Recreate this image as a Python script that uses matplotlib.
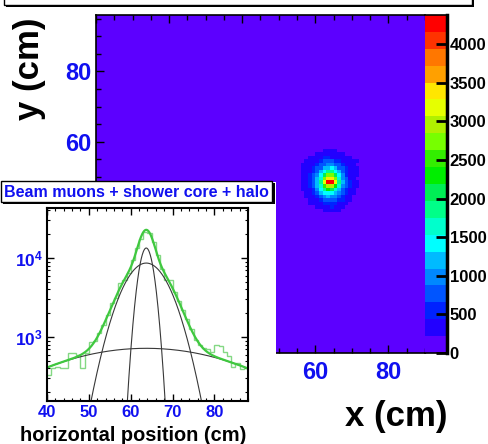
import numpy as np
import matplotlib
matplotlib.use('Agg')
from matplotlib import pyplot as plt
from matplotlib.colors import ListedColormap, BoundaryNorm
from matplotlib.patches import Rectangle
from matplotlib.ticker import MultipleLocator, LogLocator, NullFormatter, FuncFormatter

plt.rcParams['font.family'] = ['Liberation Sans', 'DejaVu Sans']
plt.rcParams['font.weight'] = 'bold'
plt.rcParams['mathtext.fontset'] = 'custom'
plt.rcParams['mathtext.rm'] = 'Liberation Sans:bold'
plt.rcParams['mathtext.bf'] = 'Liberation Sans:bold'

# palette (20 contour levels, bottom -> top)
palette_colors = ['#5c00ff', '#2200ff', '#0022ff', '#0055ff', '#0088ff',
                  '#00bbff', '#00ffff', '#00ffcc', '#00ff88', '#00ee55',
                  '#00ee00', '#33ee00', '#77ff00', '#b0f000', '#e6ff00',
                  '#ffe600', '#ffa000', '#ff7700', '#ff3300', '#ff0000']
z_max = 4380
palette_ticks = [0, 500, 1000, 1500, 2000, 2500, 3000, 3500, 4000]

# 2D map: 1 cm bins, x 0-90, y 0-96; beam spot read as palette level per bin
n_x, n_y = 90, 96
spot_x0 = 55   # first column of the spot block
spot_y0 = 40   # lowest row of the spot block
spot_level = [
    [0, 0, 0, 0, 0, 0, 0, 1, 1, 1, 1, 0, 0, 0, 0, 0, 0, 0],
    [0, 0, 0, 0, 0, 1, 1, 1, 1, 1, 1, 1, 1, 0, 0, 0, 0, 0],
    [0, 0, 0, 1, 1, 1, 1, 2, 2, 1, 1, 1, 1, 1, 1, 0, 0, 0],
    [0, 0, 1, 1, 1, 1, 2, 3, 3, 3, 2, 2, 1, 1, 1, 1, 1, 0],
    [0, 1, 1, 1, 1, 2, 3, 3, 4, 4, 3, 3, 2, 1, 1, 1, 0, 0],
    [0, 1, 1, 1, 2, 3, 3, 5, 5, 6, 5, 3, 3, 2, 1, 1, 1, 0],
    [0, 1, 1, 1, 2, 3, 5, 6, 8, 8, 6, 5, 3, 2, 1, 1, 1, 0],
    [0, 1, 1, 2, 3, 4, 6, 9, 12, 12, 9, 6, 4, 2, 1, 1, 1, 0],
    [0, 1, 1, 2, 3, 5, 7, 12, 15, 15, 12, 7, 4, 3, 1, 1, 0, 0],
    [0, 1, 1, 2, 3, 5, 8, 14, 19, 19, 14, 8, 5, 3, 2, 1, 1, 0],
    [0, 1, 1, 2, 3, 5, 7, 11, 13, 13, 10, 7, 4, 3, 2, 1, 1, 0],
    [0, 1, 1, 1, 2, 4, 6, 8, 10, 9, 7, 5, 3, 2, 1, 1, 0, 0],
    [0, 0, 1, 1, 2, 3, 5, 6, 6, 6, 5, 4, 3, 2, 1, 1, 0, 0],
    [0, 0, 1, 1, 1, 2, 3, 4, 5, 4, 4, 3, 2, 1, 1, 0, 0, 0],
    [0, 0, 0, 1, 1, 1, 2, 3, 3, 3, 3, 2, 2, 1, 1, 0, 0, 0],
    [0, 0, 0, 1, 1, 1, 1, 2, 2, 2, 2, 1, 1, 1, 0, 0, 0, 0],
    [0, 0, 0, 0, 0, 1, 1, 1, 1, 2, 1, 1, 1, 0, 0, 0, 0, 0],
    [0, 0, 0, 0, 0, 0, 0, 1, 1, 1, 1, 1, 0, 0, 0, 0, 0, 0],
]

# inset: horizontal projection, 1 cm bins from 40 to 88
hist_lo, hist_hi = 40, 88
hist_counts = [330, 400, 420, 400, 410, 630, 630, 600, 410, 620,
               860, 880, 1120, 1420, 1900, 2700, 3100, 4800, 5300, 6500,
               9500, 13300, 17500, 21500, 20500, 16000, 10800, 7200, 5300, 5200,
               3700, 2900, 2200, 1700, 1250, 920, 800, 720, 700, 640,
               790, 780, 640, 570, 420, 470, 390, 400]

# fit components: beam muons, shower core, halo
comp_amp = [13400, 8640, 720]
comp_mean = [63.7, 63.7, 63.7]
comp_sigma = [1.51, 4.65, 22.4]

W, H = 489, 444
blue = '#1010f0'


def fy(py):
    return 1 - py / H


fig = plt.figure(figsize=(W / 100, H / 100), dpi=100)

# ---- main 2D map
ax = fig.add_axes([96 / W, fy(353), 329 / W, 338 / H], zorder=0)
counts = np.zeros((n_y, n_x))
lev = np.array(spot_level)[::-1]
counts[spot_y0:spot_y0 + lev.shape[0], spot_x0:spot_x0 + lev.shape[1]] = (lev + 0.5) * z_max / 20
cmap = ListedColormap(palette_colors)
levels = np.linspace(0, z_max, 21)
norm = BoundaryNorm(levels, 20)
ax.pcolormesh(np.arange(n_x + 1), np.arange(n_y + 1), counts, cmap=cmap, norm=norm)
ax.set_xlim(0, n_x)
ax.set_ylim(0, n_y)
ax.xaxis.set_major_locator(MultipleLocator(20))
ax.xaxis.set_minor_locator(MultipleLocator(5))
ax.yaxis.set_major_locator(MultipleLocator(20))
ax.yaxis.set_minor_locator(MultipleLocator(5))
ax.tick_params(which='both', direction='in', top=True, right=False, colors='black')
ax.tick_params(which='major', length=6, width=1)
ax.tick_params(which='minor', length=3.5, width=1)
ax.tick_params(axis='x', labelsize=17, labelcolor=blue, pad=6)
ax.tick_params(axis='y', labelsize=17, labelcolor=blue, pad=3)
ax.spines['right'].set_visible(False)
for s in ['left', 'top', 'bottom']:
    ax.spines[s].set_linewidth(1.2)

# palette
cax = fig.add_axes([425 / W, fy(353), 22 / W, 338 / H], zorder=0)
mids = (levels[:-1] + levels[1:]) / 2
cax.pcolormesh([0, 1], levels, mids[:, None], cmap=cmap, norm=norm)
cax.set_xlim(0, 1)
cax.set_ylim(0, z_max)
cax.set_xticks([])
cax.yaxis.tick_right()
cax.set_yticks(palette_ticks)
cax.tick_params(axis='y', direction='in', length=8, width=2, labelsize=12, pad=2,
                right=True, left=False)
cax.spines['left'].set_visible(False)
cax.spines['right'].set_linewidth(2.5)
cax.spines['top'].set_linewidth(1.2)
cax.spines['bottom'].set_linewidth(1.2)

fig.text(30 / W, fy(120), 'y (cm)', fontsize=25, rotation=90, ha='center', va='bottom')
fig.text(396 / W, fy(416), 'x (cm)', fontsize=25, ha='center', va='center')

# ---- inset pad
pad = fig.add_axes([0, 0, 276 / W, 262 / H], zorder=1)
pad.set_facecolor('white')
pad.set_xticks([])
pad.set_yticks([])
for s in pad.spines.values():
    s.set_visible(False)

axi = fig.add_axes([47 / W, fy(401), 201 / W, 193 / H], zorder=2)
edges = np.arange(hist_lo, hist_hi + 1)
axi.stairs(hist_counts, edges, baseline=None, color='#84d884', lw=1.0)
xs = np.linspace(hist_lo, hist_hi, 600)
total = np.zeros_like(xs)
for a, m, s in zip(comp_amp, comp_mean, comp_sigma):
    g = a * np.exp(-0.5 * ((xs - m) / s) ** 2)
    total += g
    axi.plot(xs, g, color='#383838', lw=0.8)
axi.plot(xs, total, color='#3fc83f', lw=1.6)
axi.set_yscale('log')
axi.set_xlim(hist_lo, hist_hi)
axi.set_ylim(155, 43000)
axi.xaxis.set_major_locator(MultipleLocator(10))
axi.xaxis.set_minor_locator(MultipleLocator(2))
axi.yaxis.set_major_locator(LogLocator(base=10))
axi.yaxis.set_minor_locator(LogLocator(base=10, subs=np.arange(2, 10)))
axi.yaxis.set_minor_formatter(NullFormatter())
axi.yaxis.set_major_formatter(FuncFormatter(lambda v, p: r'$\mathbf{10^{%d}}$' % round(np.log10(v))))
axi.tick_params(which='both', direction='in', top=True, right=True, colors='black')
axi.tick_params(which='major', length=5, width=1)
axi.tick_params(which='minor', length=2.5, width=0.8)
axi.tick_params(axis='x', labelsize=12, labelcolor=blue, pad=3)
axi.tick_params(axis='y', labelsize=12.5, labelcolor=blue, pad=3)
for s in axi.spines.values():
    s.set_linewidth(1.5)
fig.text(133 / W, fy(435), 'horizontal position (cm)', fontsize=14.4, ha='center', va='center')

# ---- title boxes (pixel overlay)
ov = fig.add_axes([0, 0, 1, 1], zorder=3)
ov.set_xlim(0, W)
ov.set_ylim(H, 0)
ov.axis('off')
ov.add_patch(Rectangle((3, 183), 272, 21, facecolor='black', edgecolor='none'))
ov.add_patch(Rectangle((1, 181), 271, 21, facecolor='white', edgecolor='black', lw=1))
ov.text(136.5, 192, 'Beam muons + shower core + halo', color=blue, fontsize=11.5,
        ha='center', va='center')
# main title box, mostly above the top edge
ov.add_patch(Rectangle((6, -20), 468, 27, facecolor='black', edgecolor='none'))
ov.add_patch(Rectangle((4, -22), 468, 27, facecolor='white', edgecolor='black', lw=1))

fig.savefig('out.png', dpi=100)
